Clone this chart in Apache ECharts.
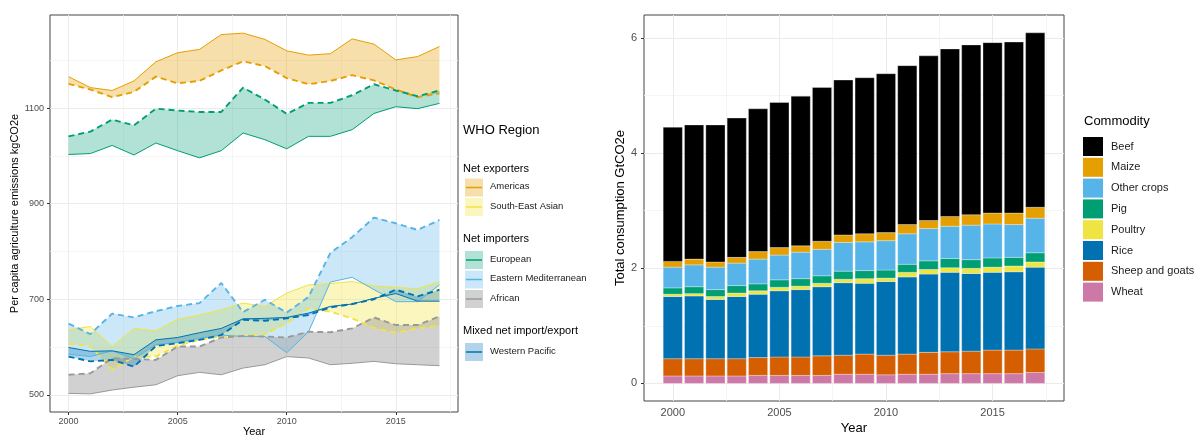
<!DOCTYPE html>
<html><head><meta charset="utf-8">
<script src="https://cdn.jsdelivr.net/npm/echarts@6/dist/echarts.min.js"></script>
<style>html,body{margin:0;padding:0;background:#fff}#c{width:1198px;height:437px}</style>
</head><body><div id="c"></div>
<script>
// ---------- data ----------
const years = [2000,2001,2002,2003,2004,2005,2006,2007,2008,2009,2010,2011,2012,2013,2014,2015,2016,2017];

// Left panel: per capita agriculture emissions (kgCO2e), solid & dashed lines per WHO region
const americasSolid  = [1166,1143,1137,1157,1197,1216,1223,1254,1257,1244,1220,1211,1214,1245,1234,1201,1208,1229];
const americasDashed = [1151,1139,1123,1134,1166,1152,1157,1179,1198,1188,1163,1150,1157,1169,1158,1139,1123,1131];
const seAsianSolid   = [636,643,601,639,634,658,667,678,692,685,713,730,733,737,728,725,722,737];
const seAsianDashed  = [607,602,553,580,580,603,615,622,623,627,650,681,674,660,640,630,639,645];
const europeanSolid  = [1003,1005,1022,1002,1027,1011,996,1011,1048,1034,1015,1041,1041,1055,1089,1103,1099,1110];
const europeanDashed = [1041,1051,1076,1064,1099,1095,1092,1092,1143,1118,1088,1111,1111,1127,1150,1137,1125,1137];
const eastMedSolid   = [585,580,592,575,605,610,618,625,622,622,588,632,736,746,720,695,695,730];
const eastMedDashed  = [649,627,670,662,675,686,692,734,673,699,672,705,797,830,871,859,845,866];
const africanSolid   = [503,502,510,516,521,540,547,542,556,563,580,577,563,566,570,565,563,561];
const africanDashed  = [542,545,577,575,573,601,601,620,623,622,620,632,631,639,662,646,646,664];
const westPacSolid   = [599,591,592,584,615,620,630,639,659,660,662,671,685,690,702,712,696,696];
const westPacDashed  = [580,570,573,559,602,608,615,625,657,655,660,667,683,690,700,720,706,720];

const leftYTicks = [500,700,900,1100];
const leftYMinor = [600,800,1000,1200];
const xTicks = [2000,2005,2010,2015];
const xMinor = [2002.5,2007.5,2012.5,2017.5];

const legendTitle = 'WHO Region';
const groupNames = ['Net exporters','Net importers','Mixed net import/export'];
const group1 = ['Americas','South-East Asian'];
const group2 = ['European','Eastern Mediterranean','African'];
const group3 = ['Western Pacific'];

// Right panel: total consumption GtCO2e by commodity
const commodities = ['Beef','Maize','Other crops','Pig','Poultry','Rice','Sheep and goats','Wheat'];
const beef       = [2.33,2.33,2.38,2.42,2.48,2.52,2.60,2.67,2.69,2.71,2.76,2.76,2.86,2.91,2.95,2.96,2.97,3.03];
const maize      = [0.10,0.10,0.09,0.10,0.13,0.13,0.11,0.14,0.13,0.14,0.14,0.16,0.14,0.17,0.18,0.19,0.20,0.19];
const otherCrops = [0.36,0.38,0.39,0.39,0.43,0.43,0.46,0.46,0.50,0.50,0.51,0.53,0.56,0.56,0.60,0.59,0.57,0.60];
const pig        = [0.11,0.12,0.12,0.13,0.12,0.13,0.13,0.13,0.14,0.14,0.14,0.14,0.15,0.16,0.15,0.16,0.15,0.16];
const poultry    = [0.04,0.04,0.05,0.06,0.06,0.06,0.06,0.06,0.06,0.08,0.06,0.08,0.08,0.08,0.09,0.09,0.10,0.09];
const rice       = [1.08,1.09,1.03,1.08,1.10,1.15,1.17,1.20,1.26,1.23,1.28,1.34,1.36,1.38,1.35,1.35,1.36,1.42];
const sheepGoats = [0.30,0.30,0.30,0.30,0.31,0.32,0.32,0.34,0.33,0.35,0.34,0.35,0.38,0.38,0.39,0.41,0.41,0.41];
const wheat      = [0.13,0.13,0.13,0.13,0.14,0.14,0.14,0.14,0.16,0.16,0.15,0.16,0.16,0.17,0.17,0.17,0.17,0.19];

const rightYTicks = [0,2,4,6];
const rightYMinor = [1,3,5];

// ---------- styling ----------
const FONT = 'Liberation Sans, Arial, Helvetica, sans-serif';
const COL = {
  'Americas':'#E69F00','South-East Asian':'#F0E442','European':'#009E73',
  'Eastern Mediterranean':'#56B4E9','African':'#999999','Western Pacific':'#0072B2'
};
const ALPHA = {
  'Americas':0.33,'South-East Asian':0.35,'European':0.3,
  'Eastern Mediterranean':0.3,'African':0.45,'Western Pacific':0.3
};
const BARCOL = {
  'Beef':'#000000','Maize':'#E69F00','Other crops':'#56B4E9','Pig':'#009E73',
  'Poultry':'#F0E442','Rice':'#0072B2','Sheep and goats':'#D55E00','Wheat':'#CC79A7'
};
function rgba(hex, a){
  const n = parseInt(hex.slice(1),16);
  return 'rgba('+((n>>16)&255)+','+((n>>8)&255)+','+(n&255)+','+a+')';
}

// ---------- series ----------
const series = [];

function gridLines(xi, yi, xs, xsMinor, ys, ysMinor){
  const major = {color:'#ebebeb', width:1, type:'solid'};
  const minor = {color:'#f3f3f3', width:0.8, type:'solid'};
  const d = [];
  xsMinor.forEach(v=>d.push({xAxis:v, lineStyle:minor}));
  ysMinor.forEach(v=>d.push({yAxis:v, lineStyle:minor}));
  xs.forEach(v=>d.push({xAxis:v, lineStyle:major}));
  ys.forEach(v=>d.push({yAxis:v, lineStyle:major}));
  series.push({
    type:'line', xAxisIndex:xi, yAxisIndex:yi, data:[], z:1, silent:true,
    markLine:{silent:true, z:1, symbol:['none','none'], label:{show:false}, animation:false, data:d}
  });
}
gridLines(0,0,xTicks,xMinor,leftYTicks,leftYMinor);
gridLines(1,1,xTicks,xMinor,rightYTicks,rightYMinor);

function ribbon(name, a, b){
  series.push({
    type:'custom', xAxisIndex:0, yAxisIndex:0, z:6, silent:true,
    data: years.map((y,i)=>[y, a[i], b[i]]),
    encode:{x:0, y:[1,2]},
    renderItem(params, api){
      if (params.dataIndexInside !== 0) return null;
      const n = params.dataInsideLength, top = [], bot = [];
      for (let i=0;i<n;i++){
        top.push(api.coord([api.value(0,i), api.value(1,i)]));
        bot.push(api.coord([api.value(0,i), api.value(2,i)]));
      }
      return {type:'polygon', shape:{points: top.concat(bot.reverse())},
              style:{fill: rgba(COL[name], ALPHA[name])}};
    }
  });
}
function line(name, vals, dashed){
  series.push({
    type:'line', xAxisIndex:0, yAxisIndex:0, z:7, silent:true, symbol:'none', showSymbol:false,
    data: years.map((y,i)=>[y, vals[i]]),
    lineStyle:{color:COL[name], width: dashed?1.9:1, type: dashed?[6,4]:'solid'},
    itemStyle:{color:COL[name]}
  });
}
const regions = [
  ['Americas', americasSolid, americasDashed],
  ['South-East Asian', seAsianSolid, seAsianDashed],
  ['European', europeanSolid, europeanDashed],
  ['Eastern Mediterranean', eastMedSolid, eastMedDashed],
  ['African', africanSolid, africanDashed],
  ['Western Pacific', westPacSolid, westPacDashed]
];
regions.forEach(r=>ribbon(r[0], r[1], r[2]));
regions.forEach(r=>{ line(r[0], r[1], false); line(r[0], r[2], true); });

// stacked bars (bottom -> top)
const stackLayers = [
  ['Wheat', wheat], ['Sheep and goats', sheepGoats], ['Rice', rice], ['Poultry', poultry],
  ['Pig', pig], ['Other crops', otherCrops], ['Maize', maize], ['Beef', beef]
];
const cum = years.map(()=>0);
stackLayers.forEach(([name, vals])=>{
  const data = years.map((y,i)=>{ const lo = cum[i]; cum[i] = lo + vals[i]; return [y, lo, cum[i]]; });
  series.push({
    type:'custom', name, xAxisIndex:1, yAxisIndex:1, z:6, silent:true,
    itemStyle:{color:BARCOL[name]},
    data, encode:{x:0, y:[1,2]},
    renderItem(params, api){
      const x = api.value(0), lo = api.value(1), hi = api.value(2);
      const pl = api.coord([x-0.45, hi]), pr = api.coord([x+0.45, lo]);
      return {type:'rect', shape:{x:pl[0], y:pl[1], width:pr[0]-pl[0], height:pr[1]-pl[1]},
              style:{fill:BARCOL[name], stroke:'rgba(255,255,255,0.6)', lineWidth:0.5}};
    }
  });
});

// ---------- left legend (graphic) ----------
const graphic = [];
function gtext(x, y, text, size, color){
  graphic.push({type:'text', left:x, top:y - size*0.6, silent:true,
    style:{text, fontSize:size, fontFamily:FONT, fill:color}});
}
gtext(463, 132, legendTitle, 13, '#000');
const legendLayout = [
  [groupNames[0], 170, group1, 187.5],
  [groupNames[1], 240.5, group2, 260],
  [groupNames[2], 332, group3, 352]
];
legendLayout.forEach(([title, ty, items, y0])=>{
  gtext(463, ty, title, 11, '#000');
  items.forEach((nm, k)=>{
    const cy = y0 + k*19.5;
    graphic.push({type:'rect', silent:true, shape:{x:465, y:cy-9, width:18, height:18},
      style:{fill: rgba(COL[nm], ALPHA[nm])}});
    graphic.push({type:'line', silent:true, shape:{x1:466, y1:cy, x2:482, y2:cy},
      style:{stroke: COL[nm], lineWidth:1.5}});
    gtext(490, cy, nm, 9.5, '#1a1a1a');
  });
});
gtext(1084, 123, 'Commodity', 13, '#000');

// ---------- axes ----------
function xAxis(gi, min, max, labelSize, margin, nameGap, nameSize){
  return {
    type:'value', gridIndex:gi, min, max,
    axisLine:{show:false}, splitLine:{show:false},
    axisTick:{show:true, customValues:xTicks, length:3, lineStyle:{color:'#333'}},
    axisLabel:{customValues:xTicks, fontSize:labelSize, color:'#4d4d4d', margin, fontFamily:FONT,
               formatter:v=>String(v)},
    name:'Year', nameLocation:'middle', nameGap, nameMoveOverlap:false,
    nameTextStyle:{fontSize:nameSize, color:'#000', fontFamily:FONT}
  };
}
function yAxis(gi, min, max, ticks, labelSize, margin, name, nameGap, nameSize){
  return {
    type:'value', gridIndex:gi, min, max,
    axisLine:{show:false}, splitLine:{show:false},
    axisTick:{show:true, customValues:ticks, length:3, lineStyle:{color:'#333'}},
    axisLabel:{customValues:ticks, fontSize:labelSize, color:'#4d4d4d', margin, fontFamily:FONT,
               formatter:v=>String(v)},
    name, nameLocation:'middle', nameGap, nameMoveOverlap:false,
    nameTextStyle:{fontSize:nameSize, color:'#000', fontFamily:FONT}
  };
}

const option = {
  animation:false,
  backgroundColor:'#fff',
  textStyle:{fontFamily:FONT},
  grid:[
    {left:50, top:15, width:408, height:397, show:true, borderColor:'#444', borderWidth:1,
     backgroundColor:'transparent', containLabel:false, outerBoundsMode:'none'},
    {left:644, top:15, width:420, height:386, show:true, borderColor:'#444', borderWidth:1,
     backgroundColor:'transparent', containLabel:false, outerBoundsMode:'none'}
  ],
  xAxis:[
    xAxis(0, 1999.15, 2017.85, 9, 5, 14, 11),
    xAxis(1, 1998.65, 2018.35, 11, 6, 21, 13)
  ],
  yAxis:[
    yAxis(0, 464, 1295, leftYTicks, 9, 6, 'Per capita agriculture emissions kgCO2e', 30, 11),
    yAxis(1, -0.305, 6.4, rightYTicks, 11, 7, 'Total consumption GtCO2e', 17, 13)
  ],
  legend:{
    data: commodities, orient:'vertical', left:1078, top:132, icon:'rect',
    itemWidth:20, itemHeight:19, itemGap:1.8, selectedMode:false,
    textStyle:{fontSize:11, color:'#1a1a1a', fontFamily:FONT, padding:[0,0,0,3]}
  },
  graphic,
  series
};
const chart = echarts.init(document.getElementById('c'), null, {renderer:'canvas'});
chart.setOption(option);
</script>
</body></html>
